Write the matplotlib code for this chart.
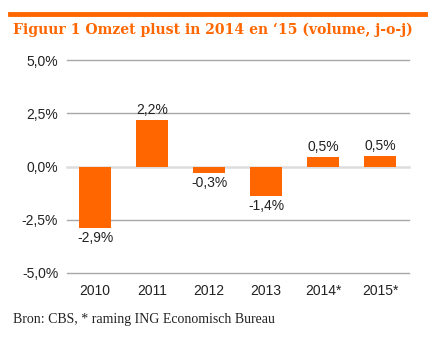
import matplotlib
matplotlib.use("Agg")
import matplotlib.pyplot as plt
from matplotlib.lines import Line2D

categories = ["2010", "2011", "2012", "2013", "2014*", "2015*"]
values = [-2.9, 2.2, -0.3, -1.4, 0.45, 0.5]
labels = ["-2,9%", "2,2%", "-0,3%", "-1,4%", "0,5%", "0,5%"]
yticks = [-5.0, -2.5, 0.0, 2.5, 5.0]
ytick_labels = ["-5,0%", "-2,5%", "0,0%", "2,5%", "5,0%"]

orange = "#FF6600"
W, H = 441, 343
fig = plt.figure(figsize=(W / 100, H / 100), dpi=100)
fig.patch.set_facecolor("white")

ax = fig.add_axes([66.5 / W, (H - 273) / H, 342 / W, 213 / H])
x = list(range(len(categories)))
ax.bar(x, values, width=0.56, color=orange, zorder=3)
ax.set_xlim(-0.5, len(categories) - 0.5)
ax.set_ylim(-5, 5)
ax.set_yticks(yticks)
ax.set_yticklabels(ytick_labels, family="Liberation Sans", fontsize=10, color="#222222")
ax.set_xticks(x)
ax.set_xticklabels(categories, family="Liberation Sans", fontsize=10, color="#222222")
ax.tick_params(length=0, pad=6)
ax.tick_params(axis="x", pad=8)
for s in ax.spines.values():
    s.set_visible(False)
for t in yticks:
    if t == 0:
        ax.axhline(t, color="#DDDDDD", lw=1.8, zorder=1, clip_on=False)
    else:
        ax.axhline(t, color="#A8A8A8", lw=1.0, zorder=1, clip_on=False)

for xi, v, lab in zip(x, values, labels):
    if v >= 0:
        ax.annotate(lab, (xi, v), xytext=(0, 2), textcoords="offset points",
                    ha="center", va="bottom", family="Liberation Sans", fontsize=10, color="#222222")
    else:
        ax.annotate(lab, (xi, v), xytext=(0, -2), textcoords="offset points",
                    ha="center", va="top", family="Liberation Sans", fontsize=10, color="#222222")

fig.add_artist(Line2D([10 / W, 425 / W], [1 - 14 / H, 1 - 14 / H], color=orange, lw=3.5))
fig.text(13 / W, 1 - 30 / H, "Figuur 1 Omzet plust in 2014 en \u201815 (volume, j-o-j)",
         ha="left", va="center", family="DejaVu Serif", fontweight="bold", fontsize=10.1, color=orange)
fig.text(13 / W, 1 - 319 / H, "Bron: CBS, * raming ING Economisch Bureau",
         ha="left", va="center", family="Liberation Serif", fontsize=10, color="#222222")

fig.savefig("out.png", dpi=100)
